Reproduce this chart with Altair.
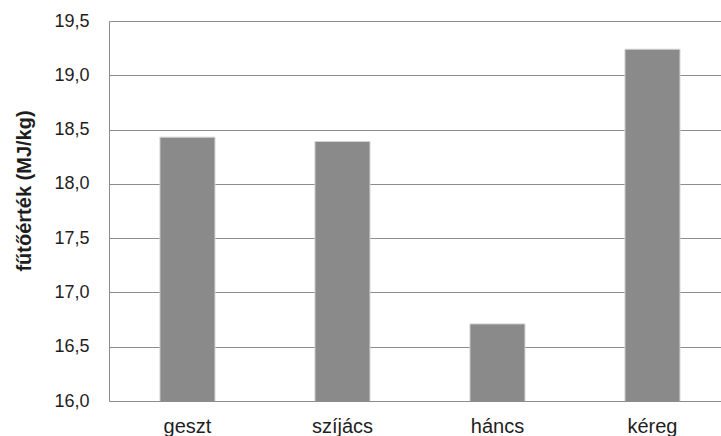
import altair as alt
import pandas as pd

# Heating value of the tree parts
parts = ["geszt", "szíjács", "háncs", "kéreg"]
heating_values = [18.43, 18.39, 16.71, 19.24]
y_ticks = [16.0, 16.5, 17.0, 17.5, 18.0, 18.5, 19.0, 19.5]

df = pd.DataFrame({"part": parts, "value": heating_values})

font = "Liberation Sans"
text_color = "#1e1e1e"

chart = alt.Chart(df).mark_bar(
    color="#8a8a8a", stroke="#d2d2d2", strokeWidth=1, clip=True
).encode(
    x=alt.X(
        "part:N",
        sort=parts,
        scale=alt.Scale(paddingInner=0.645, paddingOuter=0.2967, align=0.554),
        axis=alt.Axis(
            title=None, labelAngle=0, ticks=False, domainColor="#8c8c8c",
            labelFontSize=20, labelColor=text_color, labelFont=font, labelPadding=15,
        ),
    ),
    y=alt.Y(
        "value:Q",
        scale=alt.Scale(domain=[16.0, 19.5], nice=False, zero=False),
        axis=alt.Axis(
            title="fűtőérték (MJ/kg)", titleFont=font, titleFontSize=20,
            titleFontWeight="bold", titleColor=text_color,
            titleX=-85, titleY=169.5, titleAlign="center", titleBaseline="middle",
            titleAngle=-90,
            values=y_ticks, ticks=False, domainColor="#8c8c8c",
            gridColor="#8c8c8c", gridWidth=1,
            labelFontSize=18, labelColor=text_color, labelFont=font, labelPadding=20,
            labelExpr="replace(format(datum.value, '.1f'), '.', ',')",
        ),
    ),
).properties(
    width=612, height=380,
    autosize=alt.AutoSizeParams(type="none"),
    padding={"left": 109, "top": 21, "right": 0, "bottom": 35},
).configure_view(stroke=None).configure(background="white")

chart.save("out.html", embed_options={"renderer": "svg", "actions": False})
